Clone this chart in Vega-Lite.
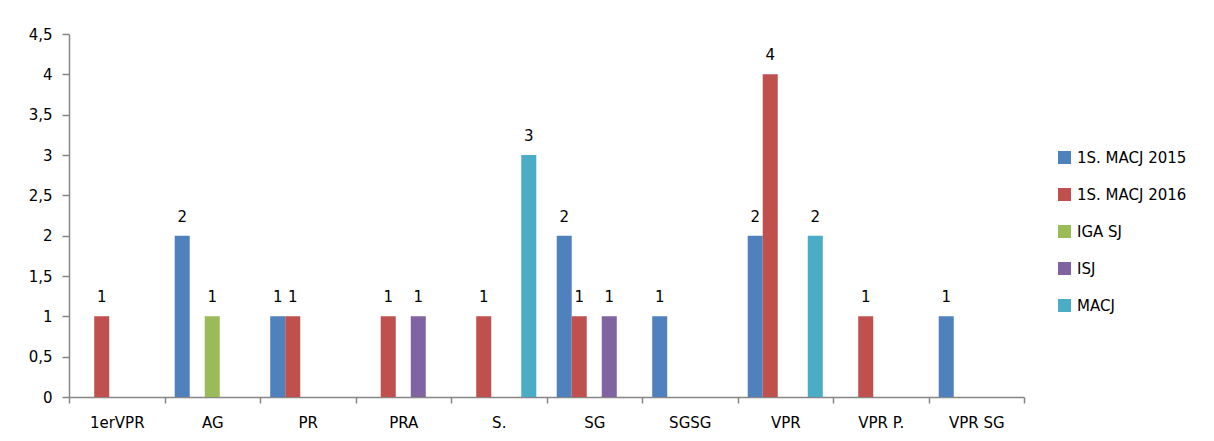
{
  "$schema": "https://vega.github.io/schema/vega-lite/v6.json",
  "width": 955,
  "height": 363,
  "autosize": {"type": "none"},
  "padding": {"left": 69, "top": 34, "right": 190, "bottom": 44},
  "config": {
    "view": {"stroke": null},
    "font": "DejaVu Sans",
    "axis": {"domainColor": "#868686", "tickColor": "#868686", "labelColor": "#000000", "labelFont": "DejaVu Sans", "labelFontSize": 15, "domainWidth": 1.5, "tickWidth": 1.5}
  },
  "data": {
    "values": [
      {"cat": "1erVPR", "series": "1S. MACJ 2016", "value": 1},
      {"cat": "AG", "series": "1S. MACJ 2015", "value": 2},
      {"cat": "AG", "series": "IGA SJ", "value": 1},
      {"cat": "PR", "series": "1S. MACJ 2015", "value": 1},
      {"cat": "PR", "series": "1S. MACJ 2016", "value": 1},
      {"cat": "PRA", "series": "1S. MACJ 2016", "value": 1},
      {"cat": "PRA", "series": "ISJ", "value": 1},
      {"cat": "S.", "series": "1S. MACJ 2016", "value": 1},
      {"cat": "S.", "series": "MACJ", "value": 3},
      {"cat": "SG", "series": "1S. MACJ 2015", "value": 2},
      {"cat": "SG", "series": "1S. MACJ 2016", "value": 1},
      {"cat": "SG", "series": "ISJ", "value": 1},
      {"cat": "SGSG", "series": "1S. MACJ 2015", "value": 1},
      {"cat": "VPR", "series": "1S. MACJ 2015", "value": 2},
      {"cat": "VPR", "series": "1S. MACJ 2016", "value": 4},
      {"cat": "VPR", "series": "MACJ", "value": 2},
      {"cat": "VPR P.", "series": "1S. MACJ 2016", "value": 1},
      {"cat": "VPR SG", "series": "1S. MACJ 2015", "value": 1}
    ]
  },
  "encoding": {
    "x": {
      "field": "cat", "type": "nominal",
      "sort": ["1erVPR", "AG", "PR", "PRA", "S.", "SG", "SGSG", "VPR", "VPR P.", "VPR SG"],
      "scale": {"paddingInner": 0, "paddingOuter": 0},
      "axis": {"title": null, "labelAngle": 0, "tickBand": "extent", "tickSize": 6, "labelPadding": 12}
    },
    "xOffset": {
      "field": "series", "type": "nominal",
      "scale": {"domain": ["1S. MACJ 2015", "1S. MACJ 2016", "IGA SJ", "ISJ", "MACJ"], "paddingInner": 0, "paddingOuter": 0.68}
    },
    "y": {
      "field": "value", "type": "quantitative",
      "scale": {"domain": [0, 4.5], "nice": false},
      "axis": {"title": null, "grid": false, "values": [0, 0.5, 1, 1.5, 2, 2.5, 3, 3.5, 4, 4.5], "labelExpr": "replace(format(datum.value, '.1~f'), '.', ',')", "tickSize": 7, "labelPadding": 10}
    }
  },
  "layer": [
    {
      "mark": {"type": "bar"},
      "encoding": {
        "color": {
          "field": "series", "type": "nominal",
          "scale": {"domain": ["1S. MACJ 2015", "1S. MACJ 2016", "IGA SJ", "ISJ", "MACJ"], "range": ["#4F81BD", "#C0504D", "#9BBB59", "#8064A2", "#4BACC6"]},
          "legend": {"title": null, "orient": "none", "legendX": 988, "legendY": 116, "symbolType": "square", "symbolSize": 169, "symbolStrokeWidth": 0, "labelFontSize": 15, "labelColor": "#000000", "rowPadding": 21, "labelOffset": 5}
        }
      }
    },
    {
      "mark": {"type": "text", "dy": -19, "fontSize": 15, "color": "#000000"},
      "encoding": {"text": {"field": "value", "type": "quantitative"}}
    }
  ]
}
